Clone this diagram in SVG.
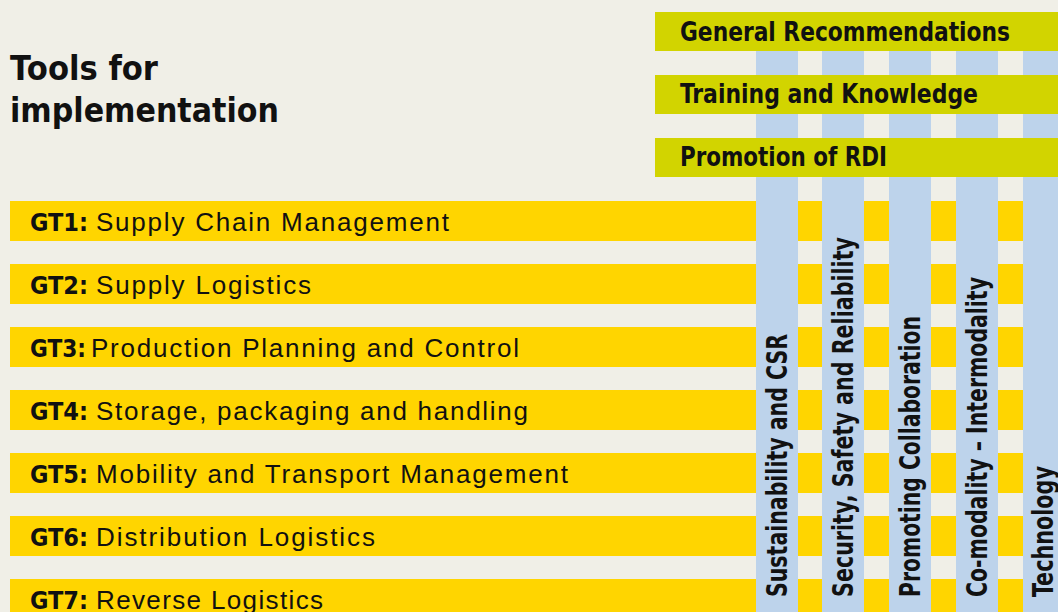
<svg xmlns="http://www.w3.org/2000/svg" width="1058" height="612" viewBox="0 0 1058 612">
<style>
.bg{fill:#f0efe7}
.gt{fill:#ffd500}
.col{fill:#bdd3eb}
.gr{fill:#d2d400}
.title{font-family:"DejaVu Sans","Liberation Sans",sans-serif;font-weight:bold;font-size:33px;fill:#111}
.hd{font-family:"DejaVu Sans Condensed","DejaVu Sans","Liberation Sans",sans-serif;font-weight:bold;font-size:27px;fill:#111}
.code{font-family:"DejaVu Sans Condensed","DejaVu Sans","Liberation Sans",sans-serif;font-weight:bold;font-size:25px;fill:#111}
.lbl{font-family:"Liberation Sans",Arial,sans-serif;font-size:26px;fill:#111}
.vt{font-family:"DejaVu Sans Condensed","DejaVu Sans","Liberation Sans",sans-serif;font-weight:bold;font-size:29px;fill:#111}
</style>
<rect class="bg" x="0" y="0" width="1058" height="612"/>
<g id="title">
<text class="title" x="10" y="80" textLength="148" lengthAdjust="spacingAndGlyphs">Tools for</text>
<text class="title" x="10" y="122" textLength="269" lengthAdjust="spacingAndGlyphs">implementation</text>
</g>
<g id="gt1"><rect class="gt" x="10" y="201" width="1048" height="40"/><text class="code" x="30" y="231" textLength="58" lengthAdjust="spacingAndGlyphs">GT1:</text><text class="lbl" x="96" y="231" textLength="353">Supply Chain Management</text></g>
<g id="gt2"><rect class="gt" x="10" y="264" width="1048" height="40"/><text class="code" x="30" y="294" textLength="58" lengthAdjust="spacingAndGlyphs">GT2:</text><text class="lbl" x="96" y="294" textLength="215">Supply Logistics</text></g>
<g id="gt3"><rect class="gt" x="10" y="327" width="1048" height="40"/><text class="code" x="30" y="357" textLength="56" lengthAdjust="spacingAndGlyphs">GT3:</text><text class="lbl" x="91" y="357" textLength="428">Production Planning and Control</text></g>
<g id="gt4"><rect class="gt" x="10" y="390" width="1048" height="40"/><text class="code" x="30" y="420" textLength="58" lengthAdjust="spacingAndGlyphs">GT4:</text><text class="lbl" x="96" y="420" textLength="432">Storage, packaging and handling</text></g>
<g id="gt5"><rect class="gt" x="10" y="453" width="1048" height="40"/><text class="code" x="30" y="483" textLength="58" lengthAdjust="spacingAndGlyphs">GT5:</text><text class="lbl" x="96" y="483" textLength="472">Mobility and Transport Management</text></g>
<g id="gt6"><rect class="gt" x="10" y="516" width="1048" height="40"/><text class="code" x="30" y="546" textLength="58" lengthAdjust="spacingAndGlyphs">GT6:</text><text class="lbl" x="96" y="546" textLength="279">Distribution Logistics</text></g>
<g id="gt7"><rect class="gt" x="10" y="579" width="1048" height="40"/><text class="code" x="30" y="609" textLength="58" lengthAdjust="spacingAndGlyphs">GT7:</text><text class="lbl" x="96" y="609" textLength="227">Reverse Logistics</text></g>
<g id="col1"><rect class="col" x="756" y="12" width="42" height="600"/><text class="vt" transform="translate(787,597) rotate(-90)" textLength="263" lengthAdjust="spacingAndGlyphs">Sustainability and CSR</text></g>
<g id="col2"><rect class="col" x="822" y="12" width="42" height="600"/><text class="vt" transform="translate(853,597) rotate(-90)" textLength="360" lengthAdjust="spacingAndGlyphs">Security, Safety and Reliability</text></g>
<g id="col3"><rect class="col" x="889" y="12" width="42" height="600"/><text class="vt" transform="translate(920,597) rotate(-90)" textLength="281" lengthAdjust="spacingAndGlyphs">Promoting Collaboration</text></g>
<g id="col4"><rect class="col" x="956" y="12" width="42" height="600"/><text class="vt" transform="translate(987,597) rotate(-90)" textLength="320" lengthAdjust="spacingAndGlyphs">Co-modality – Intermodality</text></g>
<g id="col5"><rect class="col" x="1023" y="12" width="42" height="600"/><text class="vt" transform="translate(1053,597) rotate(-90)" textLength="131" lengthAdjust="spacingAndGlyphs">Technology</text></g>
<g id="general"><rect class="gr" x="655" y="12" width="403" height="39"/><text class="hd" x="680" y="41" textLength="330" lengthAdjust="spacingAndGlyphs">General Recommendations</text></g>
<g id="training"><rect class="gr" x="655" y="75" width="403" height="39"/><text class="hd" x="680" y="103" textLength="298" lengthAdjust="spacingAndGlyphs">Training and Knowledge</text></g>
<g id="rdi"><rect class="gr" x="655" y="138" width="403" height="39"/><text class="hd" x="680" y="166" textLength="207" lengthAdjust="spacingAndGlyphs">Promotion of RDI</text></g>
</svg>
